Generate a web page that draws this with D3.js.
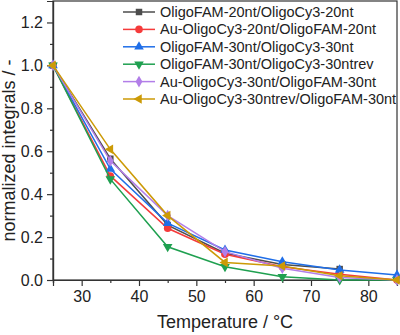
<!DOCTYPE html>
<html>
<head>
<meta charset="utf-8">
<script src="https://cdn.jsdelivr.net/npm/d3@7"></script>
<style>
  body { margin: 0; background: #fff; }
  svg { font-family: "Liberation Sans", Arial, sans-serif; }
</style>
</head>
<body>
<svg width="400" height="335"></svg>
<script>
var temps = [25, 35, 45, 55, 65, 75, 85];
var names = [
  "OligoFAM-20nt/OligoCy3-20nt",
  "Au-OligoCy3-20nt/OligoFAM-20nt",
  "OligoFAM-30nt/OligoCy3-30nt",
  "OligoFAM-30nt/OligoCy3-30ntrev",
  "Au-OligoCy3-30nt/OligoFAM-30nt",
  "Au-OligoCy3-30ntrev/OligoFAM-30nt"
];
var fam20 = [1.0, 0.565, 0.256, 0.125, 0.072, 0.051];
var au20 = [1.0, 0.485, 0.241, 0.12, 0.062, 0.027, 0.0];
var fam30 = [1.0, 0.517, 0.265, 0.14, 0.085, 0.047, 0.023];
var fam30rev = [1.0, 0.47, 0.155, 0.062, 0.015, 0.0, 0.0];
var au30 = [1.0, 0.555, 0.30, 0.132, 0.055, 0.012, 0.0];
var au30rev = [1.0, 0.609, 0.30, 0.082, 0.065, 0.02, 0.0];
var xTicks = [30, 40, 50, 60, 70, 80];
var yTicks = [0.0, 0.2, 0.4, 0.6, 0.8, 1.0, 1.2];

var colors = ["#4d4d4d", "#f53b3b", "#1f6ee8", "#1fa050", "#b27ee8", "#cc9a06"];
var symbols = [d3.symbolSquare, d3.symbolCircle, d3.symbolTriangle, d3.symbolTriangle, d3.symbolDiamond, d3.symbolTriangle];
var rotations = [0, 0, 0, 180, 0, -90];
var sizes = [42, 45, 40, 40, 40, 40];

var series = [fam20, au20, fam30, fam30rev, au30, au30rev].map(function(vals, i) {
  return {
    name: names[i],
    values: vals.map(function(v, j) { return {t: temps[j], v: v}; })
  };
});

var svg = d3.select("svg"),
    margin = {top: 1, right: 3, bottom: 55, left: 53},
    width = 400 - margin.left - margin.right,
    height = 335 - margin.top - margin.bottom,
    g = svg.append("g").attr("transform", "translate(" + margin.left + "," + margin.top + ")");

var x = d3.scaleLinear().domain([25, 85]).range([0, width]),
    y = d3.scaleLinear().domain([0, 1.3]).range([height, 0]);

var line = d3.line()
    .x(function(d) { return x(d.t); })
    .y(function(d) { return y(d.v); });

// frame
g.append("rect")
    .attr("width", width)
    .attr("height", height)
    .attr("fill", "none")
    .attr("stroke", "#333")
    .attr("stroke-width", 1.2);

// X axis
g.append("g")
    .attr("transform", "translate(0," + height + ")")
    .call(d3.axisBottom(x).tickValues(xTicks).tickSize(6).tickPadding(5).tickFormat(d3.format("d")));
g.append("g")
    .attr("transform", "translate(0," + height + ")")
    .call(d3.axisBottom(x).tickValues([25, 35, 45, 55, 65, 75, 85]).tickSize(3).tickFormat(""));

// Y axis
g.append("g")
    .call(d3.axisLeft(y).tickValues(yTicks).tickSize(6).tickPadding(4).tickFormat(d3.format(".1f")));
g.append("g")
    .call(d3.axisLeft(y).tickValues([0.1, 0.3, 0.5, 0.7, 0.9, 1.1]).tickSize(3).tickFormat(""));

g.selectAll(".domain").attr("stroke", "#333").attr("stroke-width", 1.2);
g.selectAll(".tick line").attr("stroke", "#333").attr("stroke-width", 1.2);
g.selectAll(".tick text").attr("font-size", 16).attr("fill", "#222")
    .attr("font-family", "Liberation Sans, Arial, sans-serif");

// axis titles
svg.append("text")
    .attr("x", margin.left + width / 2)
    .attr("y", 328)
    .attr("text-anchor", "middle")
    .attr("font-size", 18)
    .attr("fill", "#222")
    .text("Temperature / \u00B0C");

svg.append("text")
    .attr("transform", "translate(15," + (margin.top + height / 2 + 10) + ") rotate(-90)")
    .attr("text-anchor", "middle")
    .attr("font-size", 18)
    .attr("fill", "#222")
    .text("normalized integrals / -");

// lines and markers
var s = g.selectAll(".series")
  .data(series)
  .enter().append("g")
    .attr("class", "series");

s.append("path")
    .attr("fill", "none")
    .attr("stroke", function(d, i) { return colors[i]; })
    .attr("stroke-width", 1.5)
    .attr("d", function(d) { return line(d.values); });

s.each(function(d, i) {
  d3.select(this).selectAll("path.pt")
    .data(d.values)
    .enter().append("path")
      .attr("class", "pt")
      .attr("d", d3.symbol().type(symbols[i]).size(sizes[i]))
      .attr("fill", colors[i])
      .attr("transform", function(p) {
        return "translate(" + x(p.t) + "," + y(p.v) + ") rotate(" + rotations[i] + ")";
      });
});

// legend
var legend = svg.append("g")
    .attr("transform", "translate(123,12)");

var item = legend.selectAll(".item")
  .data(series)
  .enter().append("g")
    .attr("transform", function(d, i) { return "translate(0," + (i * 17.4) + ")"; });

item.append("line")
    .attr("x1", 0).attr("x2", 32)
    .attr("stroke", function(d, i) { return colors[i]; })
    .attr("stroke-width", 1.5);

item.append("path")
    .attr("d", function(d, i) { return d3.symbol().type(symbols[i]).size(sizes[i])(); })
    .attr("fill", function(d, i) { return colors[i]; })
    .attr("transform", function(d, i) { return "translate(16,0) rotate(" + rotations[i] + ")"; });

item.append("text")
    .attr("x", 37)
    .attr("dy", "0.35em")
    .attr("font-size", 14.5)
    .attr("fill", "#222")
    .text(function(d) { return d.name; });
</script>
</body>
</html>
